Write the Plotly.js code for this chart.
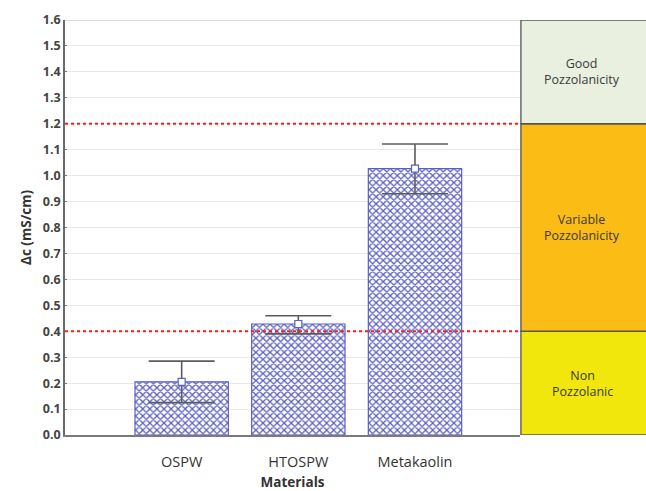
<!DOCTYPE html>
<html>
<head>
<meta charset="utf-8">
<script src="https://cdn.plot.ly/plotly-3.0.1.min.js"></script>
<style>html,body{margin:0;padding:0;background:#fff;}#chart{width:646px;height:491px;}</style>
</head>
<body>
<div id="chart"></div>
<script>
// Data
const categories = ["OSPW", "HTOSPW", "Metakaolin"];
const positions = [1, 2, 3];
const meanValues = [0.205, 0.428, 1.027];
const errUpper = [0.08, 0.032, 0.095];
const errLower = [0.08, 0.038, 0.097];
const thresholds = [0.4, 1.2];
const zoneLabels = ["Non<br>Pozzolanic", "Variable<br>Pozzolanicity", "Good<br>Pozzolanicity"];
const zoneBounds = [[0, 0.4], [0.4, 1.2], [1.2, 1.6]];
const zoneColors = ["#f2e70c", "#fbbc15", "#e9f0df"];
const yTicks = [0,0.1,0.2,0.3,0.4,0.5,0.6,0.7,0.8,0.9,1.0,1.1,1.2,1.3,1.4,1.5,1.6];

const font = "'Open Sans', 'Liberation Sans', sans-serif";

const barTrace = {
  type: "bar",
  x: positions,
  y: meanValues,
  width: 0.8,
  marker: {
    color: "#ffffff",
    line: {color: "#5a5fc2", width: 1.2},
    pattern: {shape: "x", fgcolor: "#5a5fc2", bgcolor: "#ffffff", size: 5, solidity: 0.45}
  },
  error_y: {
    type: "data", symmetric: false,
    array: errUpper, arrayminus: errLower,
    color: "#5c5c5c", thickness: 1.6, width: 33
  },
  hoverinfo: "none",
  showlegend: false
};

const pointTrace = {
  type: "scatter", mode: "markers",
  x: positions, y: meanValues,
  marker: {symbol: "square", size: 7, color: "#ffffff", line: {color: "#5a5fc2", width: 1.2}},
  hoverinfo: "none", showlegend: false
};

const shapes = [];
thresholds.forEach(t => shapes.push({
  type: "line", xref: "paper", yref: "y", x0: 0, x1: 1, y0: t, y1: t,
  line: {color: "#ff1a1a", width: 2, dash: "dot"}, layer: "above"
}));
zoneBounds.forEach((b, i) => shapes.push({
  type: "rect", xref: "paper", yref: "y", x0: 1.002, x1: 1.285, y0: b[0], y1: b[1],
  fillcolor: zoneColors[i], line: {color: "#555555", width: 1.3}, layer: "above"
}));
shapes.push({type: "line", xref: "paper", yref: "y", x0: 0, x1: 1, y0: 1.6, y1: 1.6,
  line: {color: "#bdbdbd", width: 1}, layer: "below"});

const annotations = zoneBounds.map((b, i) => ({
  xref: "paper", yref: "y", x: 1.137, y: (b[0] + b[1]) / 2,
  xanchor: "center", yanchor: "middle",
  text: zoneLabels[i], showarrow: false,
  font: {family: font, size: 12.5, color: "#3a3a3a"}, align: "center"
}));

const layout = {
  width: 646, height: 491,
  margin: {l: 65, r: 126, t: 20, b: 56},
  paper_bgcolor: "#ffffff", plot_bgcolor: "#ffffff",
  xaxis: {
    range: [0, 3.9], tickvals: positions, ticktext: categories,
    showgrid: false, zeroline: false, ticks: "",
    showline: true, linecolor: "#7a7a7a", linewidth: 1.5,
    tickfont: {family: font, size: 14.5, color: "#333333"},
    ticklabelstandoff: 13,
    title: {text: "<b>Materials</b>", font: {family: font, size: 13.5, color: "#333333"}, standoff: 8},
    fixedrange: true
  },
  yaxis: {
    range: [0, 1.6], tickvals: yTicks, ticktext: yTicks.map(v => "<b>" + v.toFixed(1) + "</b>"),
    showgrid: true, gridcolor: "#e8e8e8", gridwidth: 1, zeroline: false,
    showline: true, linecolor: "#6a6a6a", linewidth: 1.8,
    ticks: "inside", ticklen: 2, tickcolor: "#777",
    tickfont: {family: font, size: 12.5, color: "#444444"},
    title: {text: "<b>Δc (mS/cm)</b>", font: {family: font, size: 13.5, color: "#333333"}, standoff: 8},
    fixedrange: true
  },
  shapes: shapes,
  annotations: annotations,
  showlegend: false
};

Plotly.newPlot("chart", [barTrace, pointTrace], layout, {displayModeBar: false, staticPlot: true});
</script>
</body>
</html>
